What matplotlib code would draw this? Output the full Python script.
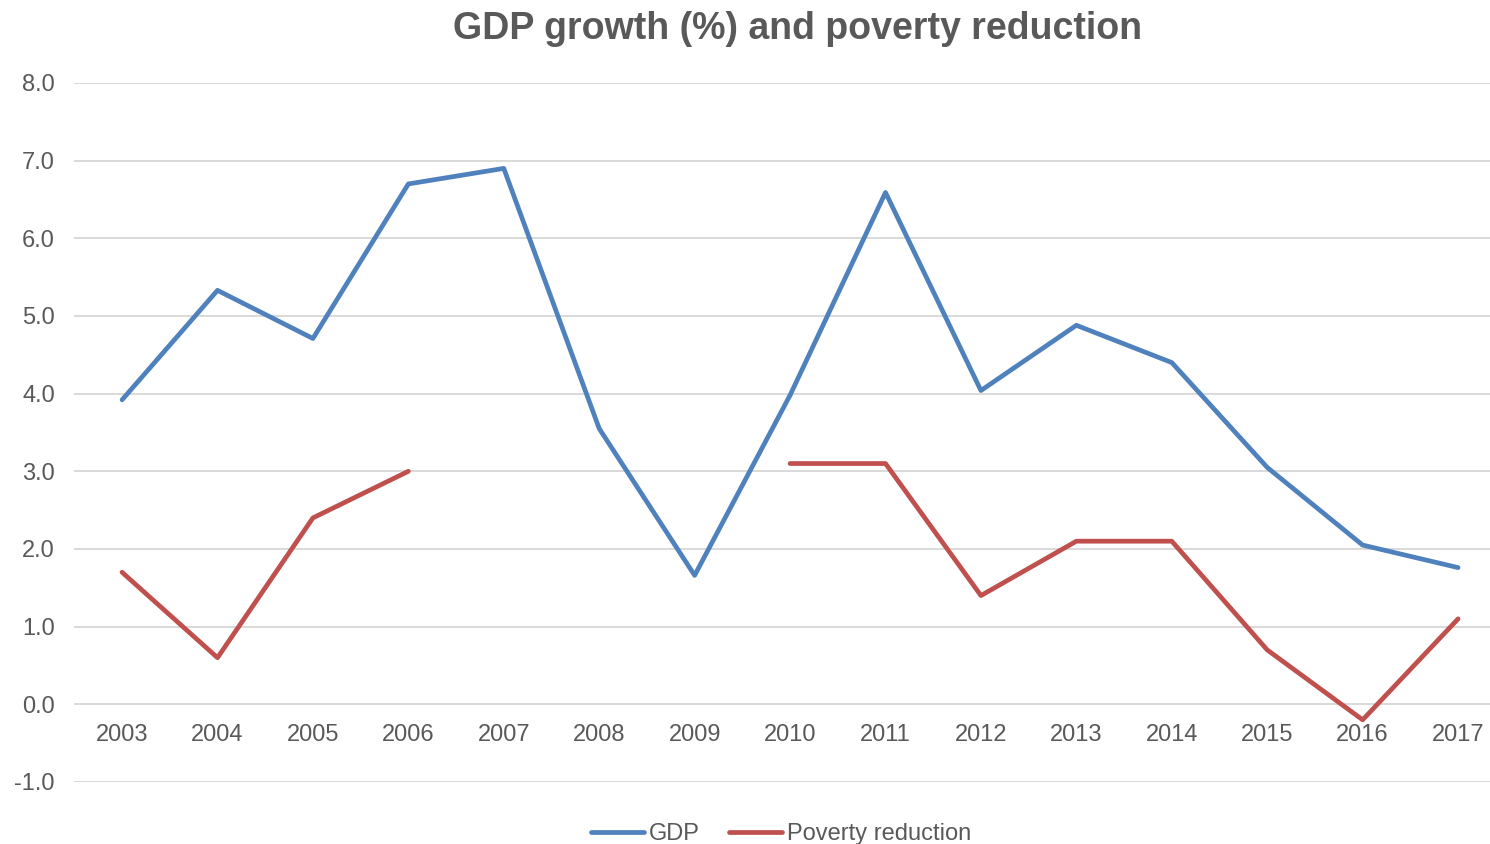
import numpy as np
import matplotlib.pyplot as plt

plt.rcParams['font.family'] = ['Liberation Sans', 'DejaVu Sans']

# series
years = ['2003', '2004', '2005', '2006', '2007', '2008', '2009', '2010',
         '2011', '2012', '2013', '2014', '2015', '2016', '2017']
gdp = [3.92, 5.33, 4.71, 6.70, 6.90, 3.55, 1.66, 3.98,
       6.59, 4.04, 4.88, 4.40, 3.05, 2.05, 1.76]
poverty = [1.7, 0.6, 2.4, 3.0, np.nan, np.nan, np.nan, 3.1,
           3.1, 1.4, 2.1, 2.1, 0.7, -0.2, 1.1]

txt = '#595959'
fig = plt.figure(figsize=(14.9, 8.44), dpi=100)
ax = fig.add_axes([0.0499, 0.0735, 0.9607, 0.8282])

x = np.arange(len(years))
ax.plot(x, gdp, color='#4F81BD', lw=3.4, solid_capstyle='round',
        solid_joinstyle='round', label='GDP', zorder=3)
ax.plot(x, poverty, color='#C0504D', lw=3.4, solid_capstyle='round',
        solid_joinstyle='round', label='Poverty reduction', zorder=3)

ax.set_xlim(-0.5, len(years) - 0.5)
ax.set_ylim(-1, 8)
ax.set_yticks(np.arange(-1, 9, 1))
ax.set_yticklabels([f'{v:.1f}' for v in np.arange(-1, 9, 1)])
ax.set_xticks(x)
ax.set_xticklabels(years)
ax.grid(axis='y', color='#D9D9D9', lw=1.4)
ax.set_axisbelow(True)

for s in ax.spines.values():
    s.set_visible(False)
# category labels sit under the zero line
ax.spines['bottom'].set_position(('data', 0))
ax.tick_params(axis='x', length=0, pad=14, labelsize=17, labelcolor=txt)
ax.tick_params(axis='y', length=0, pad=14, labelsize=17, labelcolor=txt)

fig.text(0.535, 0.966, 'GDP growth (%) and poverty reduction', ha='center',
         va='center', fontsize=27, fontweight='bold', color=txt)

fig.legend(loc='center', bbox_to_anchor=(0.524, 0.012), ncol=2,
           frameon=False, fontsize=17, labelcolor=txt, handlelength=2.25,
           handletextpad=0.2, columnspacing=1.25)

fig.savefig('out.png', dpi=100)
